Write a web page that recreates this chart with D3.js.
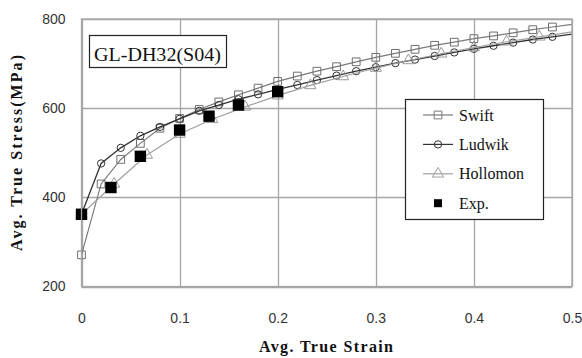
<!DOCTYPE html>
<html lang="en">
<head>
<meta charset="utf-8">
<title>Avg. true stress vs strain</title>
<script src="https://cdn.jsdelivr.net/npm/d3@7"></script>
<style>
  body { margin: 0; background: #fff; }
  .tick text { font-family: "Liberation Sans", Arial, sans-serif; font-size: 14px; fill: #333; }
  .title { font-family: "Liberation Serif", "Times New Roman", serif; font-weight: bold; font-size: 16px; fill: #111; }
  .serif { font-family: "Liberation Serif", "Times New Roman", serif; fill: #111; }
</style>
</head>
<body>
<div id="chart"></div>
<script>
var W = 582, H = 358;

// Swift fit, every 0.02 strain (last point at 0.5 closes the line, no marker)
var swiftX = [0, 0.02, 0.04, 0.06, 0.08, 0.10, 0.12, 0.14, 0.16, 0.18, 0.20, 0.22, 0.24, 0.26, 0.28, 0.30, 0.32, 0.34, 0.36, 0.38, 0.40, 0.42, 0.44, 0.46, 0.48, 0.5];
var swiftY = [271, 430, 485, 521, 555, 577, 597, 614, 630, 645, 660, 672, 683, 693, 704, 714, 723, 732, 741, 748, 756, 762, 769, 776, 782, 788];
// Ludwik fit
var ludwikX = [0, 0.02, 0.04, 0.06, 0.08, 0.10, 0.12, 0.14, 0.16, 0.18, 0.20, 0.22, 0.24, 0.26, 0.28, 0.30, 0.32, 0.34, 0.36, 0.38, 0.40, 0.42, 0.44, 0.46, 0.48, 0.5];
var ludwikY = [362, 476, 511, 538, 558, 576, 594, 607, 620, 631, 642, 652, 663, 673, 683, 692, 701, 709, 717, 725, 733, 740, 747, 754, 760, 766];
// Hollomon fit
var hollX = [0, 0.0333, 0.0667, 0.1, 0.1333, 0.1667, 0.2, 0.2333, 0.2667, 0.3, 0.3333, 0.3667, 0.4, 0.4333, 0.4667, 0.5];
var hollY = [362, 430, 495, 542, 575, 603, 628, 651, 671, 690, 707, 722, 736, 749, 760, 771];
// experiment
var expX = [0, 0.03, 0.06, 0.10, 0.13, 0.16, 0.20];
var expY = [362, 422, 492, 551, 582, 607, 637];

var xTicks = [0, 0.1, 0.2, 0.3, 0.4, 0.5];
var yTicks = [200, 400, 600, 800];

var svg = d3.select("#chart").append("svg")
    .attr("width", W).attr("height", H);

var x = d3.scaleLinear().domain([0, 0.5]).range([81.5, 572]);
var y = d3.scaleLinear().domain([200, 800]).range([286.5, 19]);

// grid
svg.append("g").selectAll("line").data(xTicks).enter().append("line")
    .attr("x1", function (d) { return Math.round(x(d)) + 0.5; })
    .attr("x2", function (d) { return Math.round(x(d)) + 0.5; })
    .attr("y1", y(800)).attr("y2", y(200))
    .attr("stroke", "#a6a6a6").attr("stroke-width", 1.3);
svg.append("g").selectAll("line").data(yTicks).enter().append("line")
    .attr("y1", function (d) { return Math.round(y(d)) + 0.5; })
    .attr("y2", function (d) { return Math.round(y(d)) + 0.5; })
    .attr("x1", x(0)).attr("x2", x(0.5))
    .attr("stroke", "#a6a6a6").attr("stroke-width", 1.3);

// axes (labels only)
var xAxis = svg.append("g").attr("transform", "translate(0," + y(200) + ")")
    .call(d3.axisBottom(x).tickValues(xTicks).tickSize(0).tickPadding(27)
        .tickFormat(function (d) { return d === 0 ? "0" : d3.format(".1f")(d); }));
xAxis.select(".domain").remove();
var yAxis = svg.append("g").attr("transform", "translate(" + x(0) + ",0)")
    .call(d3.axisLeft(y).tickValues(yTicks).tickSize(0).tickPadding(16));
yAxis.select(".domain").remove();

function series(xs, ys, lineColor, lineWidth) {
    var pts = xs.map(function (d, i) { return [d, ys[i]]; });
    svg.append("path").datum(pts)
        .attr("fill", "none").attr("stroke", lineColor).attr("stroke-width", lineWidth)
        .attr("d", d3.line().x(function (d) { return x(d[0]); }).y(function (d) { return y(d[1]); }));
    return pts;
}

var sym = {
    square: d3.symbol().type(d3.symbolSquare).size(60),
    circle: d3.symbol().type(d3.symbolCircle).size(42),
    triangle: d3.symbol().type(d3.symbolTriangle).size(55),
    exp: d3.symbol().type(d3.symbolSquare).size(130)
};

function markers(pts, shape, color) {
    svg.append("g").selectAll("path").data(pts.filter(function (d) { return d[0] < 0.5; }))
        .enter().append("path")
        .attr("transform", function (d) { return "translate(" + x(d[0]) + "," + y(d[1]) + ")"; })
        .attr("d", sym[shape])
        .attr("fill", "none").attr("stroke", color).attr("stroke-width", 1);
}

var sp = series(swiftX, swiftY, "#7a7a7a", 1.2);
markers(sp, "square", "#6e6e6e");
var lp = series(ludwikX, ludwikY, "#333", 1.3);
markers(lp, "circle", "#333");
var hp = series(hollX, hollY, "#a0a0a0", 1.2);
markers(hp, "triangle", "#9a9a9a");

svg.append("g").selectAll("path").data(expX).enter().append("path")
    .attr("transform", function (d, i) { return "translate(" + x(d) + "," + y(expY[i]) + ")"; })
    .attr("d", sym.exp).attr("fill", "#000");

// border
svg.append("rect").attr("x", x(0)).attr("y", y(800))
    .attr("width", x(0.5) - x(0)).attr("height", y(200) - y(800))
    .attr("fill", "none").attr("stroke", "#a6a6a6").attr("stroke-width", 1.3);

// axis titles
svg.append("text").attr("class", "title")
    .attr("x", 326).attr("y", 352).attr("text-anchor", "middle")
    .attr("textLength", 134).attr("lengthAdjust", "spacing")
    .text("Avg. True Strain");
svg.append("text").attr("class", "title")
    .attr("transform", "translate(22,153) rotate(-90)").attr("text-anchor", "middle")
    .attr("textLength", 196).attr("lengthAdjust", "spacing")
    .text("Avg. True Stress(MPa)");

// annotation box
svg.append("rect").attr("x", 89.5).attr("y", 35.5).attr("width", 137).attr("height", 32)
    .attr("fill", "#fff").attr("stroke", "#222").attr("stroke-width", 1.2);
svg.append("text").attr("class", "serif").attr("x", 94).attr("y", 61)
    .attr("font-size", 18).attr("textLength", 127).attr("lengthAdjust", "spacingAndGlyphs")
    .text("GL-DH32(S04)");

// legend
var legNames = ["Swift", "Ludwik", "Hollomon", "Exp."];
var legShapes = ["square", "circle", "triangle", "exp"];
var legColors = ["#7a7a7a", "#333", "#a0a0a0", "#000"];
svg.append("rect").attr("x", 405.5).attr("y", 99.5).attr("width", 138).attr("height", 120)
    .attr("fill", "#fff").attr("stroke", "#222").attr("stroke-width", 1.2);
var leg = svg.append("g").selectAll("g").data(legNames).enter().append("g")
    .attr("transform", function (d, i) { return "translate(438," + (115 + i * 29.4) + ")"; });
leg.filter(function (d, i) { return i < 3; }).append("line")
    .attr("x1", -15).attr("x2", 15)
    .attr("stroke", function (d, i) { return legColors[i]; }).attr("stroke-width", 1.2);
leg.append("path")
    .attr("d", function (d, i) {
        return i === 3 ? d3.symbol().type(d3.symbolSquare).size(64)() : sym[legShapes[i]]();
    })
    .attr("fill", function (d, i) { return i === 3 ? "#000" : "none"; })
    .attr("stroke", function (d, i) { return i === 3 ? "none" : legColors[i]; });
leg.append("text").attr("class", "serif").attr("x", 21).attr("y", 5.5)
    .attr("font-size", 16).text(function (d) { return d; });
</script>
</body>
</html>
